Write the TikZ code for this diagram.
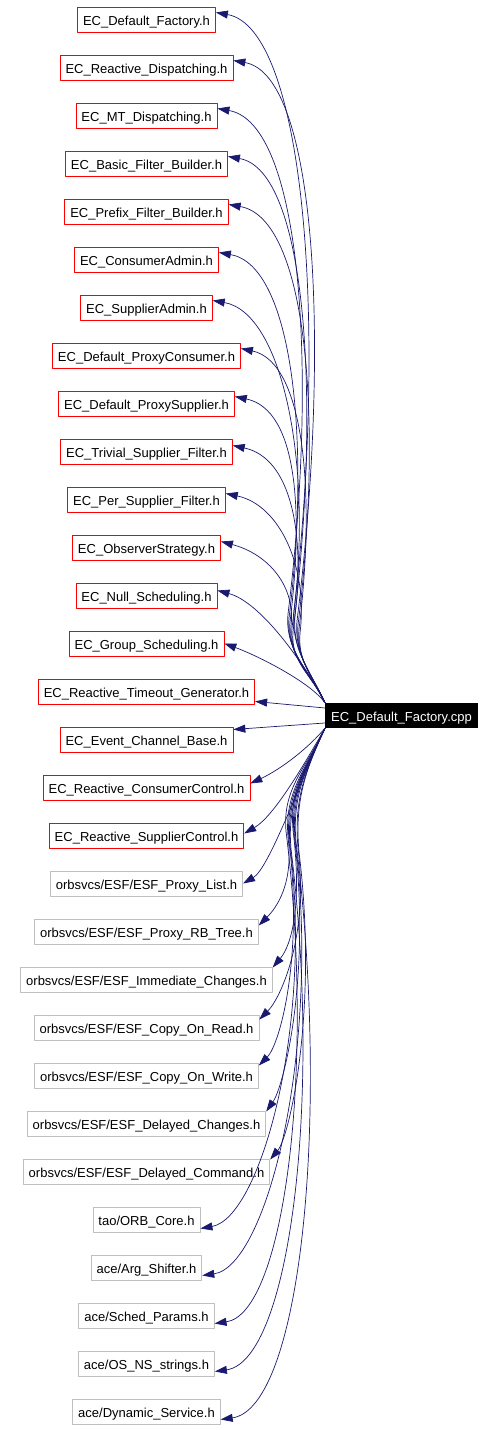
\documentclass[tikz,border=0pt]{standalone}
\usepackage{fontspec}
\setmainfont{Liberation Sans}
\usetikzlibrary{arrows.meta}
\definecolor{navyline}{HTML}{191970}
\definecolor{boxgray}{HTML}{BFBFBF}
\tikzset{incbox/.style={draw=#1,line width=0.8pt,fill=white,minimum height=25pt,inner xsep=5.5pt,inner ysep=0pt,
    text height=12.5pt,text depth=0pt},
  srcbox/.style={fill=black,text=white,minimum height=25pt,inner xsep=6pt,inner ysep=0pt,text height=13pt,text depth=0pt},
  dep/.style={navyline,line width=0.7pt,->}}

\begin{document}
\begin{tikzpicture}[x=1pt,y=1pt,>={Triangle[length=12pt,width=8pt]},line join=round,font=\fontsize{13}{15}\selectfont]
\useasboundingbox (0,0) rectangle (496,1430);
% --- included headers, one row every 48pt
\foreach \i/\txt/\c in {1/EC\_Default\_Factory.h/red, 2/EC\_Reactive\_Dispatching.h/red,
  3/EC\_MT\_Dispatching.h/red, 4/EC\_Basic\_Filter\_Builder.h/red, 5/EC\_Prefix\_Filter\_Builder.h/red,
  6/EC\_ConsumerAdmin.h/red, 7/EC\_SupplierAdmin.h/red, 8/EC\_Default\_ProxyConsumer.h/red,
  9/EC\_Default\_ProxySupplier.h/red, 10/EC\_Trivial\_Supplier\_Filter.h/red, 11/EC\_Per\_Supplier\_Filter.h/red,
  12/EC\_ObserverStrategy.h/red, 13/EC\_Null\_Scheduling.h/red, 14/EC\_Group\_Scheduling.h/red,
  15/EC\_Reactive\_Timeout\_Generator.h/red, 16/EC\_Event\_Channel\_Base.h/red,
  17/EC\_Reactive\_ConsumerControl.h/red, 18/EC\_Reactive\_SupplierControl.h/red,
  19/{orbsvcs/ESF/ESF\_Proxy\_List.h}/boxgray, 20/{orbsvcs/ESF/ESF\_Proxy\_RB\_Tree.h}/boxgray,
  21/{orbsvcs/ESF/ESF\_Immediate\_Changes.h}/boxgray, 22/{orbsvcs/ESF/ESF\_Copy\_On\_Read.h}/boxgray,
  23/{orbsvcs/ESF/ESF\_Copy\_On\_Write.h}/boxgray, 24/{orbsvcs/ESF/ESF\_Delayed\_Changes.h}/boxgray,
  25/{orbsvcs/ESF/ESF\_Delayed\_Command.h}/boxgray, 26/{tao/ORB\_Core.h}/boxgray, 27/{ace/Arg\_Shifter.h}/boxgray,
  28/{ace/Sched\_Params.h}/boxgray, 29/{ace/OS\_NS\_strings.h}/boxgray, 30/{ace/Dynamic\_Service.h}/boxgray}
  \node[incbox=\c] (n\i) at (146.5,{1410.5-48*(\i-1)}) {\txt};
\node[srcbox] (root) at (401.5,714.5) {EC\_Default\_Factory.cpp};
% --- edges above the source file, bundled through a bend near x=295
\foreach \i/\s/\a/\d in {1/7/-10/90, 2/7/-10/85, 3/7/-10/85, 4/7/-10/80, 5/7/-10/80, 6/7/-10/75, 7/7/-10/70,
  8/7/-12/65, 9/7/-12/65, 10/6/-12/60, 11/6/-12/55, 12/6/-15/50}{
  \pgfmathsetmacro{\vx}{287+mod(5*\i,14)}
  \pgfmathsetmacro{\vy}{795+mod(7*\i,25)}
  \pgfmathsetmacro{\od}{0.5*(1410.5-48*(\i-1)-\vy)}
  \draw[dep] (root.north west) to[out=115,in=-95] (\vx,\vy)
    to[out=83,in=\a,out distance=\od pt,in distance=\d pt] ([yshift=\s pt]n\i.east);
}
\draw[dep] (root.north west) to[out=118,in=-15,out distance=45pt,in distance=45pt] ([yshift=5pt]n13.east);
\draw[dep] (root.north west) to[out=125,in=-20,out distance=25pt,in distance=35pt] (n14.east);
\draw[dep] ([yshift=7.5pt]root.west) -- ([yshift=-10pt]n15.east);
\draw[dep] ([yshift=-7.5pt]root.west) -- ([yshift=10pt]n16.east);
% --- edges below the source file
\draw[dep] (root.south west) to[out=-130,in=25,out distance=25pt,in distance=35pt] ([yshift=4pt]n17.east);
\draw[dep] (root.south west) to[out=-120,in=30,out distance=40pt,in distance=35pt] ([yshift=2pt]n18.east);
\draw[dep] (root.south west) to[out=-115,in=30,out distance=55pt,in distance=30pt] (n19.east);
\foreach \i/\s/\a/\d in {20/6/45/25, 21/12/50/30, 22/8/45/30, 23/10/45/30, 24/12/55/30, 25/12/50/30,
  26/-9/10/60, 27/-8/8/65, 28/-8/8/70, 29/-8/8/75, 30/-8/8/80}{
  \pgfmathsetmacro{\vx}{286+mod(5*\i,14)}
  \pgfmathsetmacro{\vy}{578+mod(7*\i,25)}
  \pgfmathsetmacro{\od}{0.5*(\vy-1410.5+48*(\i-1))}
  \draw[dep] (root.south west) to[out=-115,in=95] (\vx,\vy)
    to[out=-83,in=\a,out distance=\od pt,in distance=\d pt] ([yshift=\s pt]n\i.east);
}
\end{tikzpicture}
\end{document}
